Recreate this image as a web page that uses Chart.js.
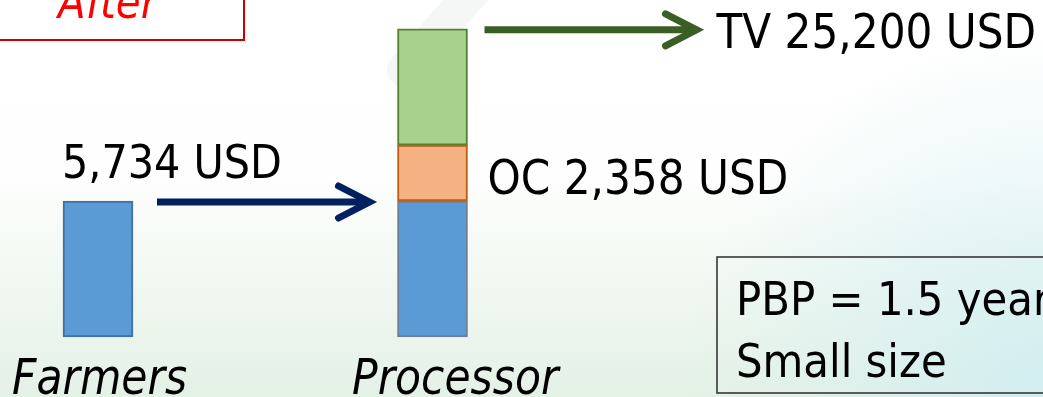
<!DOCTYPE html>
<html>
<head>
<meta charset="utf-8">
<script src="https://cdn.jsdelivr.net/npm/chart.js@4"></script>
<style>
  html, body { margin: 0; padding: 0; background: #fff; overflow: hidden; }
  #wrap { width: 1043px; height: 397px; position: relative; }
</style>
</head>
<body>
<div id="wrap"><canvas id="c" width="1043" height="397"></canvas></div>
<script>
// Value chain after the intervention (USD)
const categories = ['Farmers', 'Processor'];
const purchaseValue = [5734, 5734];   // paid to farmers / raw material at processor
const operatingCost = [null, 2358];   // OC
const processorMargin = [null, 4900]; // upper processor segment
const totalValue = [25200];           // TV
const paybackYears = [1.5];

const fmt = v => v.toLocaleString('en-US');
const FONT = '"DejaVu Sans", Verdana, sans-serif';
const SX = 0.88; // narrow the glyphs a little (Tahoma-like proportions)

function text(ctx, s, x, y, size, opt = {}) {
  ctx.save();
  ctx.font = (opt.italic ? 'italic ' : '') + size + 'px ' + FONT;
  ctx.fillStyle = opt.color || '#000';
  ctx.textBaseline = 'alphabetic';
  ctx.textAlign = 'left';
  ctx.translate(x, y);
  ctx.scale(opt.sx || SX, 1);
  ctx.fillText(s, 0, 0);
  ctx.restore();
}

function arrow(ctx, x0, x1, y, color, w) {
  ctx.save();
  ctx.strokeStyle = color;
  ctx.lineWidth = w;
  ctx.lineCap = 'butt';
  ctx.beginPath();
  ctx.moveTo(x0, y);
  ctx.lineTo(x1 - 4, y);
  ctx.stroke();
  ctx.lineCap = 'round';
  ctx.lineJoin = 'miter';
  ctx.beginPath();
  ctx.moveTo(x1 - 31, y - 16);
  ctx.lineTo(x1, y);
  ctx.lineTo(x1 - 31, y + 16);
  ctx.stroke();
  ctx.restore();
}

const backdrop = {
  id: 'backdrop',
  beforeDraw(chart) {
    const { ctx, width, height } = chart;
    ctx.save();
    const g = ctx.createLinearGradient(0, 0, 0, height);
    g.addColorStop(0, '#ffffff');
    g.addColorStop(0.45, '#fdfefd');
    g.addColorStop(1, '#e4f1e5');
    ctx.fillStyle = g;
    ctx.fillRect(0, 0, width, height);
    const r = ctx.createRadialGradient(1043, 397, 10, 1043, 397, 360);
    r.addColorStop(0, 'rgba(208,238,242,0.9)');
    r.addColorStop(1, 'rgba(215,240,242,0)');
    ctx.fillStyle = r;
    ctx.fillRect(0, 0, width, height);
    // faint diagonal swoosh behind the processor column
    ctx.strokeStyle = 'rgba(200,210,205,0.18)';
    ctx.lineCap = 'round';
    ctx.lineWidth = 34;
    ctx.beginPath();
    ctx.moveTo(478, -14);
    ctx.lineTo(404, 70);
    ctx.stroke();
    ctx.restore();
  }
};

const notes = {
  id: 'notes',
  afterDraw(chart) {
    const { ctx } = chart;
    const x = chart.scales.x, y = chart.scales.y;
    const xf = x.getPixelForValue(0), xp = x.getPixelForValue(1);
    const half = 35;
    const yBase = y.getPixelForValue(purchaseValue[0]);
    const yOC = y.getPixelForValue(purchaseValue[1] + operatingCost[1] / 2);
    const yTop = y.getPixelForValue(purchaseValue[1] + operatingCost[1] + processorMargin[1]);

    // "After" box
    ctx.save();
    ctx.fillStyle = '#ffffff';
    ctx.fillRect(-10, -10, 254, 50);
    ctx.strokeStyle = '#D00000';
    ctx.lineWidth = 2;
    ctx.strokeRect(-10, -10, 254, 50);
    ctx.restore();
    text(ctx, 'After', 58, 18, 46, { italic: true, color: '#FF0000' });

    // farmers -> processor
    text(ctx, fmt(purchaseValue[0]) + ' USD', xf - half - 1, yBase - 23, 47);
    arrow(ctx, xf + 59, xp - 63, yBase + 1, '#002060', 7);

    // operating cost
    text(ctx, 'OC ' + fmt(operatingCost[1]) + ' USD', xp + half + 20, yOC + 21, 48);

    // total value
    arrow(ctx, xp + half + 17, xp + 264, yTop + 1, '#3A5E24', 7);
    text(ctx, 'TV ' + fmt(totalValue[0]) + ' USD', xp + 284, yTop + 19, 48);

    // payback box
    ctx.save();
    ctx.strokeStyle = '#2b2b2b';
    ctx.lineWidth = 1.5;
    ctx.strokeRect(717, 257, 360, 136);
    ctx.restore();
    text(ctx, 'PBP = ' + paybackYears[0] + ' years', 736, 315, 46, { sx: 0.91 });
    text(ctx, 'Small size', 736, 377, 46, { sx: 0.91 });

    // category names
    text(ctx, categories[0], 12, 394, 50, { italic: true, sx: 0.85 });
    text(ctx, categories[1], 352, 394, 50, { italic: true, sx: 0.85 });
  }
};

const common = { borderWidth: 2, borderSkipped: false, barThickness: 70, clip: false };

new Chart(document.getElementById('c'), {
  type: 'bar',
  data: {
    labels: categories,
    datasets: [
      { data: purchaseValue, backgroundColor: '#5B9BD5', borderColor: ['#41719C', '#6B7E93'], ...common },
      { data: operatingCost, backgroundColor: '#F4B183', borderColor: '#C55A11', ...common },
      { data: processorMargin, backgroundColor: '#A9D18E', borderColor: '#548235', ...common }
    ]
  },
  options: {
    responsive: false,
    animation: false,
    devicePixelRatio: 1,
    layout: { padding: { left: 98, right: 610.5, top: 0, bottom: 60 } },
    scales: {
      x: { stacked: true, display: false, offset: false },
      y: { stacked: true, display: false, min: 0, max: 14208 }
    },
    plugins: { legend: { display: false }, tooltip: { enabled: false } }
  },
  plugins: [backdrop, notes]
});
</script>
</body>
</html>
